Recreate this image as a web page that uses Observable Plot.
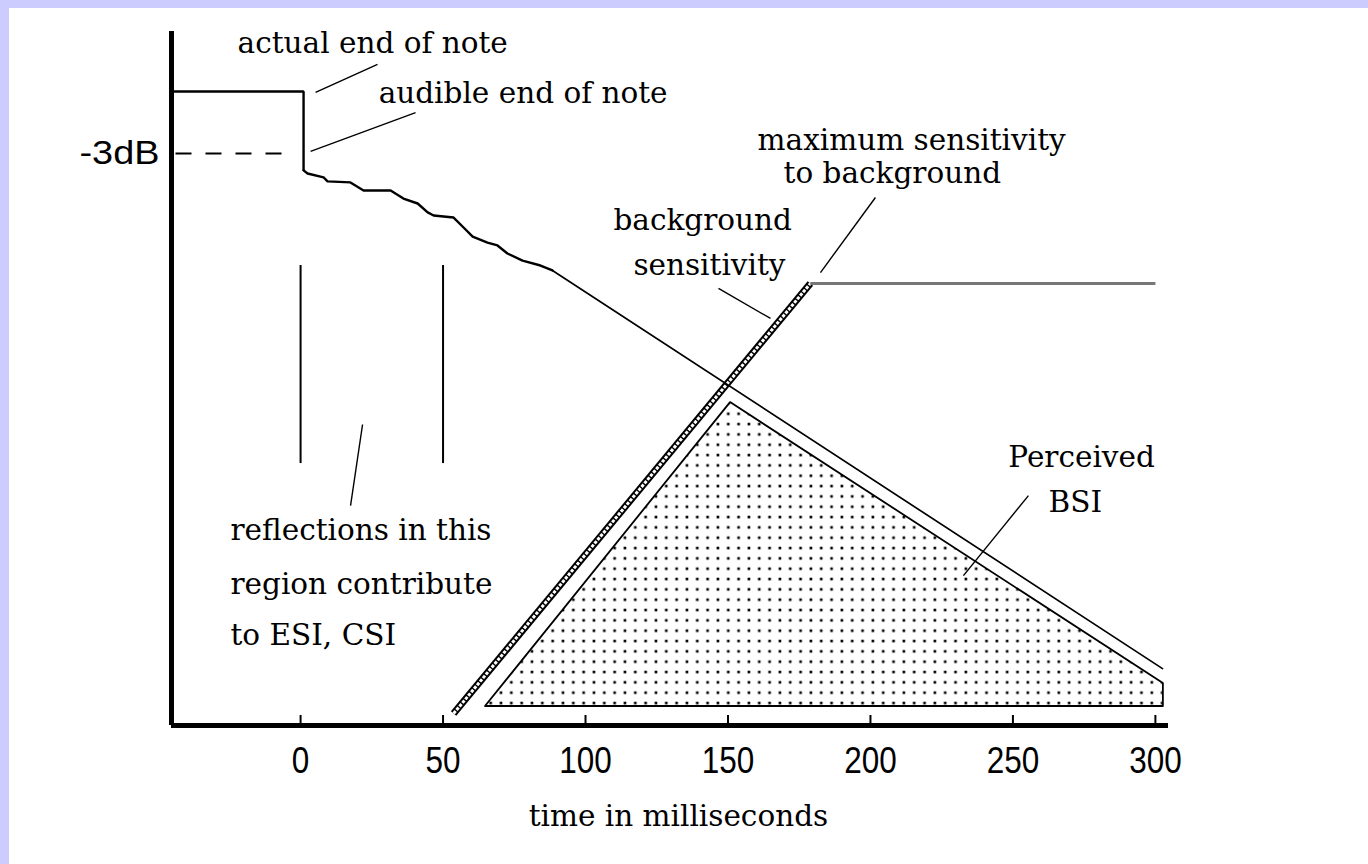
<!DOCTYPE html>
<html><head><meta charset="utf-8">
<script src="https://cdn.jsdelivr.net/npm/d3@7"></script>
<script src="https://cdn.jsdelivr.net/npm/@observablehq/plot@0.6"></script>
<style>
html,body{margin:0;padding:0;background:#ccccff;width:1368px;height:864px;overflow:hidden}
#chart{position:absolute;left:9px;top:8px;width:1359px;height:856px;background:#fff}
</style></head><body><div id="chart"></div>
<script>
// ---- axis / ticks ----
const xDomain = [-45.3, 304.6];          // milliseconds
const yDomain = [-30.67, 2.9];           // level in dB
const xTicks = [0, 50, 100, 150, 200, 250, 300];
const xTickLabels = ["0", "50", "100", "150", "200", "250", "300"];
const xLabel = "time in milliseconds";
const yTickValue = -3;
const yTickLabel = "-3dB";

// ---- note level (dB) ----
const noteMs = [-45.3, 1.05, 1.05];
const noteDb = [0, 0, -3.82];

// ---- early (jagged) decay ----
const stepMs = [1.05, 2.46, 8.07, 9.47, 17.5, 22.1, 31.6, 36.1, 41.1, 44.6, 46.7, 53.7, 57.2, 60.4, 65.6, 69.1, 72.6, 77.9, 84.2, 88.4];
const stepDb = [-3.82, -3.97, -4.16, -4.35, -4.40, -4.79, -4.79, -5.18, -5.42, -5.85, -6.00, -6.10, -6.58, -7.02, -7.31, -7.45, -7.84, -8.18, -8.42, -8.66];

// ---- late (straight) decay ----
const decayMs = [88.4, 302.5];
const decayDb = [-8.66, -27.92];

// ---- -3 dB dashed reference ----
const dashMs = [-45.3, -2.8];

// ---- background sensitivity ----
const bgRiseMs = [53.7, 178.9];
const bgRiseDb = [-30.09, -9.29];
const bgFlatMs = [178.9, 300];
const bgFlatDb = [-9.29, -9.29];

// ---- perceived BSI triangle ----
const triMs = [64.9, 150.9, 302.8];
const triTopDb = [-29.75, -15.05, -28.64];
const triBaseDb = [-29.75, -29.75, -29.75];

// ---- region markers (0 and 50 ms) ----
const regionMs = [0, 50];
const regionTopDb = -8.42;
const regionBottomDb = -18.0;

// ---- annotations ----
const noteLabels = ["actual end of note", "audible end of note", "maximum sensitivity", "to background",
  "background", "sensitivity", "Perceived", "BSI", "reflections in this", "region contribute", "to ESI, CSI"];
const noteLabelMs = [-22.1, 27.4, 160.4, 169.5, 109.8, 116.8, 248.4, 262.5, -24.6, -24.6, -24.6];
const noteLabelDb = [1.84, -0.58, -2.85, -4.45, -6.72, -8.90, -18.19, -20.32, -21.72, -24.29, -26.80];

// leader lines
const leadMs1 = [27.0, 40.35, 201.75, 146.67, 255.44, 21.75];
const leadDb1 = [1.31, -1.02, -5.13, -9.53, -19.55, -16.11];
const leadMs2 = [5.26, 3.51, 182.46, 164.91, 232.63, 17.54];
const leadDb2 = [-0.05, -2.90, -8.76, -10.98, -23.42, -20.03];

// ---- build tables ----
const zip2 = (a, b) => a.map((v, i) => ({x: v, y: b[i]}));
const note = zip2(noteMs, noteDb);
const steps = zip2(stepMs, stepDb);
const decay = zip2(decayMs, decayDb);
const dash = dashMs.map(x => ({x, y: yTickValue}));
const bgRise = zip2(bgRiseMs, bgRiseDb);
const bgFlat = zip2(bgFlatMs, bgFlatDb);
const tri = triMs.map((x, i) => ({x, top: triTopDb[i], base: triBaseDb[i]}));
const regions = regionMs.map(x => ({x}));
const labels = noteLabels.map((t, i) => ({t, x: noteLabelMs[i], y: noteLabelDb[i]}));
const leaders = leadMs1.map((x, i) => ({x1: x, y1: leadDb1[i], x2: leadMs2[i], y2: leadDb2[i]}));
const ticks = xTicks.map((x, i) => ({x, label: xTickLabels[i]}));

const serif = "'DejaVu Serif', serif";
const numFont = "'Liberation Sans', sans-serif";

const plot = Plot.plot({
  width: 1359, height: 856,
  marginLeft: 162, marginRight: 200, marginTop: 23, marginBottom: 139,
  x: {domain: xDomain, axis: null},
  y: {domain: yDomain, axis: null},
  style: {background: "white", color: "black"},
  marks: [
    Plot.areaY(tri, {x: "x", y1: "base", y2: "top", fill: "url(#dots)", stroke: "black", strokeWidth: 1.8}),
    Plot.line(bgRise, {x: "x", y: "y", stroke: "black", strokeWidth: 7, strokeLinecap: "butt"}),
    Plot.line(bgRise, {x: "x", y: "y", stroke: "white", strokeWidth: 3, strokeDasharray: "3.2,1.4", strokeLinecap: "butt"}),
    Plot.line(bgFlat, {x: "x", y: "y", stroke: "#777", strokeWidth: 3, strokeLinecap: "butt"}),
    Plot.line(dash, {x: "x", y: "y", stroke: "black", strokeWidth: 2, strokeDasharray: "16,14", strokeDashoffset: -4, strokeLinecap: "butt"}),
    Plot.line(note, {x: "x", y: "y", stroke: "black", strokeWidth: 2.4, strokeLinejoin: "miter", strokeLinecap: "butt"}),
    Plot.line(steps, {x: "x", y: "y", stroke: "black", strokeWidth: 2.4}),
    Plot.line(decay, {x: "x", y: "y", stroke: "black", strokeWidth: 1.7}),
    Plot.ruleX(regions, {x: "x", y1: regionTopDb, y2: regionBottomDb, stroke: "black", strokeWidth: 2}),
    Plot.link(leaders, {x1: "x1", y1: "y1", x2: "x2", y2: "y2", stroke: "black", strokeWidth: 1.4}),
    Plot.ruleX(ticks, {x: "x", stroke: "black", strokeWidth: 2, insetTop: 684}),
    Plot.ruleX([xDomain[0]], {stroke: "black", strokeWidth: 5}),
    Plot.ruleY([yDomain[0]], {stroke: "black", strokeWidth: 5}),
    Plot.text(ticks, {x: "x", y: yDomain[0], text: "label", dy: 47, lineAnchor: "bottom", fontSize: 37, fontFamily: numFont, fill: "black"}),
    Plot.text([yTickLabel], {x: xDomain[0], y: yTickValue, text: d => d, dx: -12, textAnchor: "end", lineAnchor: "middle", fontSize: 33, fontFamily: numFont, fill: "black"}),
    Plot.text([xLabel], {x: 132.6, y: yDomain[0], text: d => d, dy: 100, lineAnchor: "bottom", fontSize: 29.5, fontFamily: serif, fill: "black"}),
    Plot.text(labels, {x: "x", y: "y", text: "t", textAnchor: "start", lineAnchor: "bottom", fontSize: 29.5, fontFamily: serif, fill: "black"})
  ]
});

const svg = d3.select(plot);
svg.insert("defs", ":first-child").html(
  '<pattern id="dots" patternUnits="userSpaceOnUse" width="10.33" height="10.33">' +
  '<rect x="5.2" y="1.6" width="2.6" height="2.6" fill="black"/></pattern>');
// narrow the numeric labels to the reference's condensed digits
const textGroups = svg.selectAll('g[aria-label="text"]').nodes();
d3.select(textGroups[0]).selectAll("text").each(function () {
  const n = this.textContent.length;
  this.setAttribute("textLength", n * 17.5);
  this.setAttribute("lengthAdjust", "spacingAndGlyphs");
});
d3.select(textGroups[1]).selectAll("text").each(function () {
  this.setAttribute("textLength", 80);
  this.setAttribute("lengthAdjust", "spacingAndGlyphs");
});
document.getElementById("chart").appendChild(plot);
</script></body></html>
